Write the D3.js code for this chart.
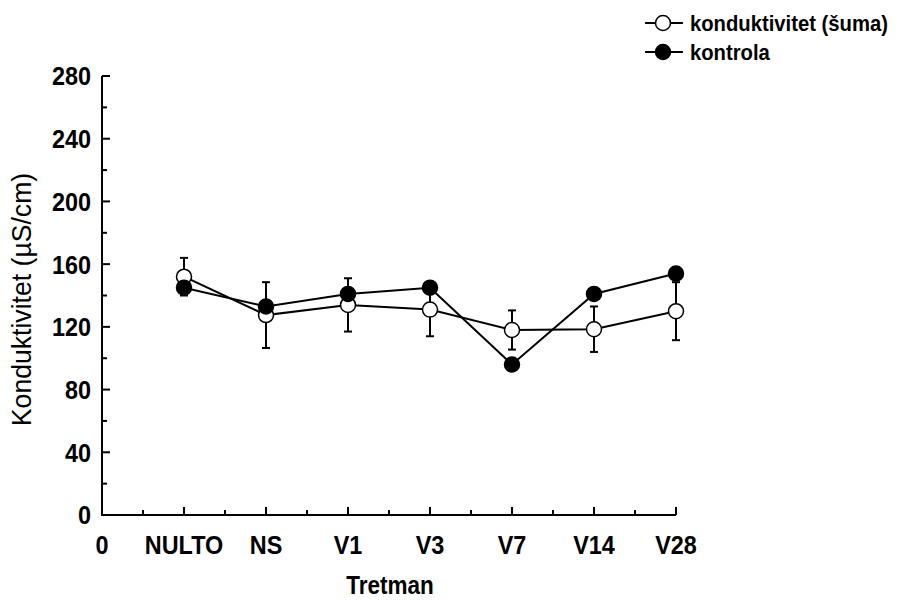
<!DOCTYPE html>
<html>
<head>
<meta charset="utf-8">
<script src="https://cdn.jsdelivr.net/npm/d3@7"></script>
<style>
  html, body { margin: 0; padding: 0; background: #fff; }
  svg { display: block; }
  text { font-family: "Liberation Sans", Arial, sans-serif; fill: #000; }
</style>
</head>
<body>
<svg id="chart" width="915" height="601"></svg>
<script>
// ---- data ----
const categories = ["NULTO", "NS", "V1", "V3", "V7", "V14", "V28"];
const xTickLabels = ["0", "NULTO", "NS", "V1", "V3", "V7", "V14", "V28"];
const yTickValues = [0, 40, 80, 120, 160, 200, 240, 280];
const seriesNames = ["konduktivitet (šuma)", "kontrola"];
const sumaValues = [152, 127.5, 134, 131, 118, 118.5, 130];
const sumaErrors = [12, 21, 17, 17, 12.5, 14.5, 18.5];
const kontrolaValues = [145, 133, 141, 145, 96, 141, 154];

// ---- layout ----
const svg = d3.select("#chart");
const x0 = 102, x1 = 676, yTop = 76, yBot = 515;
const x = d3.scaleLinear().domain([0, 7]).range([x0, x1]);
const y = d3.scaleLinear().domain([0, 280]).range([yBot, yTop]);

const condense = (sel, f) => sel.each(function () {
  const w = this.getComputedTextLength();
  d3.select(this).attr("textLength", w * f).attr("lengthAdjust", "spacingAndGlyphs");
});

// axes lines
const ax = svg.append("g").attr("stroke", "#000").attr("stroke-width", 2).attr("fill", "none");
ax.append("path").attr("d", `M${x0},${y(280)}V${yBot}H${x1}`);

// y ticks (inward)
const yMinor = d3.range(20, 280, 40);
ax.selectAll(".ymaj").data(yTickValues).enter().append("line")
  .attr("x1", x0).attr("x2", x0 + 8).attr("y1", d => y(d)).attr("y2", d => y(d));
ax.selectAll(".ymin").data(yMinor).enter().append("line")
  .attr("x1", x0).attr("x2", x0 + 5).attr("y1", d => y(d)).attr("y2", d => y(d));
// x ticks (inward)
const xMaj = d3.range(1, 8);
const xMin = d3.range(0.5, 7, 1);
ax.selectAll(".xmaj").data(xMaj).enter().append("line")
  .attr("x1", d => x(d)).attr("x2", d => x(d)).attr("y1", yBot).attr("y2", yBot - 8);
ax.selectAll(".xmin").data(xMin).enter().append("line")
  .attr("x1", d => x(d)).attr("x2", d => x(d)).attr("y1", yBot).attr("y2", yBot - 5);

// tick labels
svg.selectAll(".ylab").data(yTickValues).enter().append("text")
  .attr("x", 91).attr("y", d => y(d)).attr("dy", "0.36em")
  .attr("text-anchor", "end").attr("font-size", 26).attr("font-weight", "bold")
  .text(d => d).call(condense, 0.9);
svg.selectAll(".xlab").data(xTickLabels).enter().append("text")
  .attr("x", (d, i) => x(i)).attr("y", 554)
  .attr("text-anchor", "middle").attr("font-size", 26).attr("font-weight", "bold")
  .text(d => d).call(condense, 0.9);

// axis titles
svg.append("text").attr("transform", `translate(31,${(y(0) + y(280)) / 2 + 4}) rotate(-90)`)
  .attr("text-anchor", "middle").attr("font-size", 28)
  .text("Konduktivitet (µS/cm)").call(condense, 0.95);
svg.append("text").attr("x", 390).attr("y", 594)
  .attr("text-anchor", "middle").attr("font-size", 25).attr("font-weight", "bold")
  .text("Tretman").call(condense, 0.9);

// data
const ptsS = categories.map((c, i) => ({ i: i + 1, v: sumaValues[i], e: sumaErrors[i] }));
const ptsK = categories.map((c, i) => ({ i: i + 1, v: kontrolaValues[i] }));
const line = d3.line().x(d => x(d.i)).y(d => y(d.v));
const r = 7.5;

// error bars for suma
const eb = svg.append("g").attr("stroke", "#000").attr("stroke-width", 2);
eb.selectAll(".ev").data(ptsS).enter().append("line")
  .attr("x1", d => x(d.i)).attr("x2", d => x(d.i))
  .attr("y1", d => y(d.v + d.e)).attr("y2", d => y(d.v - d.e));
eb.selectAll(".et").data(ptsS).enter().append("line")
  .attr("x1", d => x(d.i) - 4).attr("x2", d => x(d.i) + 4)
  .attr("y1", d => y(d.v + d.e)).attr("y2", d => y(d.v + d.e));
eb.selectAll(".eb").data(ptsS).enter().append("line")
  .attr("x1", d => x(d.i) - 4).attr("x2", d => x(d.i) + 4)
  .attr("y1", d => y(d.v - d.e)).attr("y2", d => y(d.v - d.e));

svg.append("path").datum(ptsS).attr("d", line).attr("fill", "none").attr("stroke", "#000").attr("stroke-width", 2);
svg.selectAll(".ms").data(ptsS).enter().append("circle")
  .attr("cx", d => x(d.i)).attr("cy", d => y(d.v)).attr("r", r)
  .attr("fill", "#fff").attr("stroke", "#000").attr("stroke-width", 1.5);

svg.append("path").datum(ptsK).attr("d", line).attr("fill", "none").attr("stroke", "#000").attr("stroke-width", 2);
svg.selectAll(".mk").data(ptsK).enter().append("circle")
  .attr("cx", d => x(d.i)).attr("cy", d => y(d.v)).attr("r", r)
  .attr("fill", "#000").attr("stroke", "#000").attr("stroke-width", 1.5);

// legend
const leg = svg.append("g");
seriesNames.forEach((name, k) => {
  const ly = 23 + k * 29;
  leg.append("line").attr("x1", 645).attr("x2", 683).attr("y1", ly).attr("y2", ly)
    .attr("stroke", "#000").attr("stroke-width", 2);
  leg.append("circle").attr("cx", 663).attr("cy", ly).attr("r", r)
    .attr("fill", k === 0 ? "#fff" : "#000").attr("stroke", "#000").attr("stroke-width", 1.5);
  leg.append("text").attr("x", 690).attr("y", ly).attr("dy", "0.36em")
    .attr("font-size", 22).attr("font-weight", "bold").text(name).call(condense, 0.92);
});
</script>
</body>
</html>
